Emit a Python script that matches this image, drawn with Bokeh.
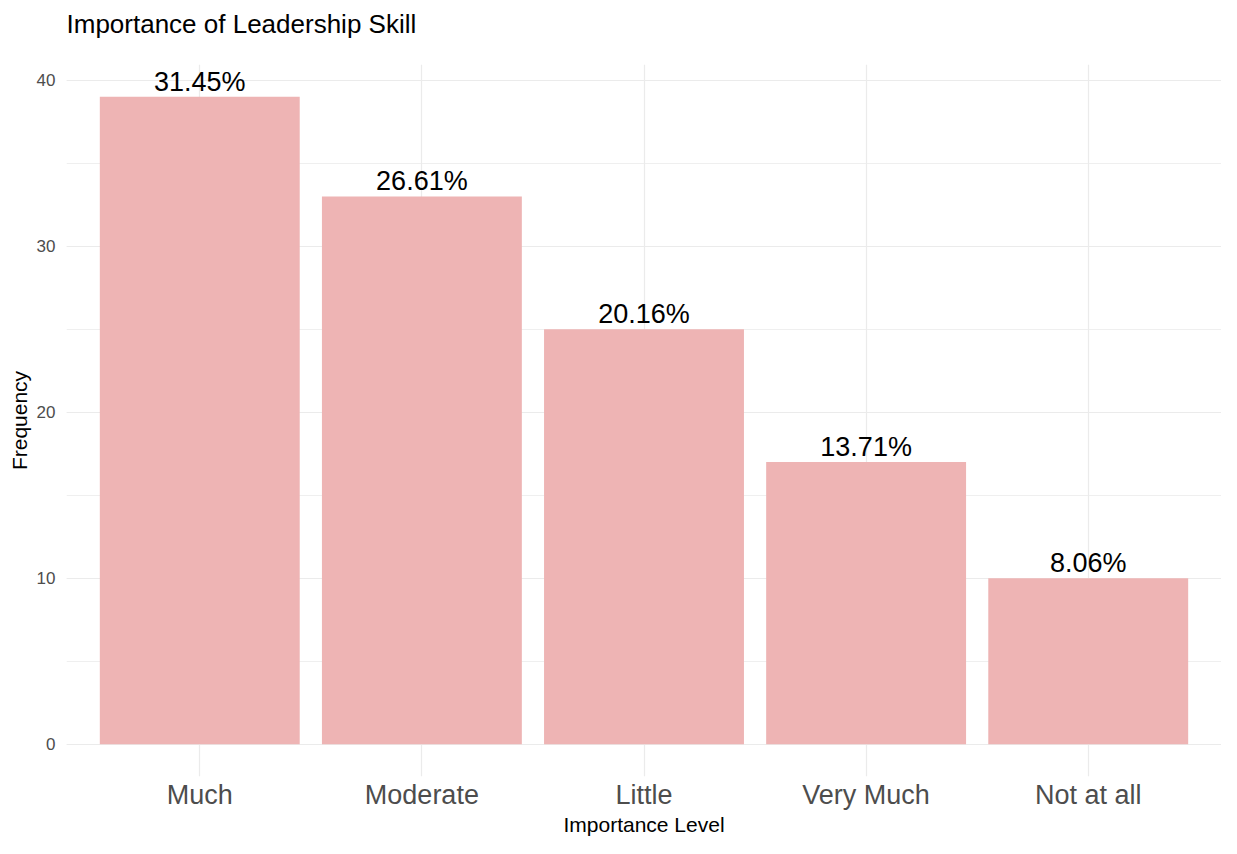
from bokeh.plotting import figure
from bokeh.models import FactorRange, Range1d, ColumnDataSource, SingleIntervalTicker, Title
from bokeh.core.properties import value
from bokeh.embed import file_html
from bokeh.resources import INLINE

categories = ["Much", "Moderate", "Little", "Very Much", "Not at all"]
counts = [39, 33, 25, 17, 10]
percent_labels = ["31.45%", "26.61%", "20.16%", "13.71%", "8.06%"]
title_text = "Importance of Leadership Skill"

FONT = "Liberation Sans"
Y_MIN, Y_MAX = -1.95, 40.95

src = ColumnDataSource(dict(cat=categories, n=counts, lab=percent_labels))

p = figure(
    width=1221, height=838,
    x_range=FactorRange(*categories, range_padding=0.1, range_padding_units="absolute"),
    y_range=Range1d(Y_MIN, Y_MAX),
    output_backend="svg", toolbar_location=None,
    min_border_left=66, min_border_right=0, min_border_top=64, min_border_bottom=0,
)
p.title_location = None

p.vbar(x="cat", top="n", bottom=0, width=0.9, source=src,
       fill_color="#EEB4B4", line_color=None)

p.text(x="cat", y="n", text="lab", source=src, text_align="center",
       text_baseline="bottom", y_offset=0, text_font=value(FONT),
       text_font_size="27px", text_color="black")

# spacer between frame and title (closest to the frame), then the title above it
spacer = Title(text=" ", text_font_size="10px", standoff=11)
p.add_layout(spacer, "above")
main_title = Title(text=title_text, text_font=FONT, text_font_size="26px",
                   text_font_style="normal", text_color="black",
                   align="left", offset=0, standoff=4)
p.add_layout(main_title, "above")

p.outline_line_color = None
p.background_fill_color = "white"
p.border_fill_color = "white"

p.yaxis.ticker = SingleIntervalTicker(interval=10, num_minor_ticks=2)

for ax in (p.xaxis[0], p.yaxis[0]):
    ax.axis_line_color = None
    ax.major_tick_line_color = None
    ax.minor_tick_line_color = None
    ax.major_tick_in = 0
    ax.major_tick_out = 0
    ax.minor_tick_in = 0
    ax.minor_tick_out = 0
    ax.major_label_text_font = FONT
    ax.major_label_text_color = "#4D4D4D"
    ax.axis_label_text_font = FONT
    ax.axis_label_text_font_style = "normal"
    ax.axis_label_text_font_size = "21px"
    ax.axis_label_text_color = "black"

p.xaxis.axis_label = "Importance Level"
p.xaxis.major_label_text_font_size = "27px"
p.xaxis.major_label_standoff = 3
p.xaxis.axis_label_standoff = 0
p.xaxis.major_label_text_line_height = 1.0
p.xaxis.axis_label_text_line_height = 1.0

p.yaxis.axis_label = "Frequency"
p.yaxis.major_label_text_font_size = "17px"
p.yaxis.major_label_standoff = 11
p.yaxis.axis_label_standoff = 3

p.xgrid.grid_line_color = "#EBEBEB"
p.xgrid.grid_line_width = 1.2
p.ygrid.grid_line_color = "#EBEBEB"
p.ygrid.grid_line_width = 1.2
p.ygrid.minor_grid_line_color = "#EBEBEB"
p.ygrid.minor_grid_line_width = 0.8

open("out.html", "w").write(file_html(p, INLINE))
